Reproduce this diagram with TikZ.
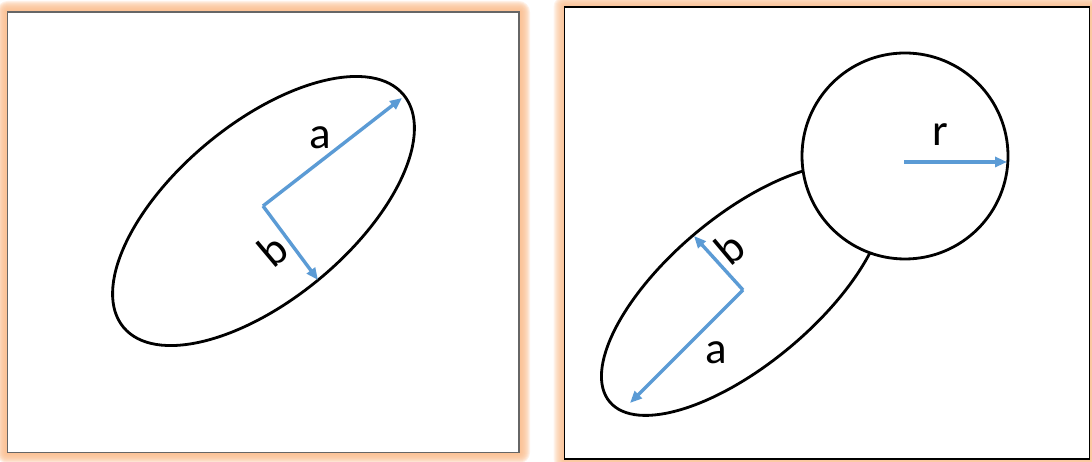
\documentclass[tikz,border=0pt]{standalone}
\usepackage{fontspec}
\setmainfont{Carlito}
\usetikzlibrary{arrows.meta, calc}
\definecolor{glow}{RGB}{250,188,140}
\definecolor{radblue}{RGB}{91,155,213}

\begin{document}
\begin{tikzpicture}[
    x=1pt, y=1pt,
    font=\fontsize{45}{48}\selectfont,
    >={Triangle[length=12pt, width=10pt]},
    panel/.style={
        fill=white,
        line width=1.5pt
    },
    outline/.style={
        draw=black,
        line width=2.8pt
    },
    dimarrow/.style={->, draw=radblue, line width=3.4pt},
    letter/.style={
        inner sep=0pt,
        text=black
    }
]
\useasboundingbox (0,0) rectangle (1092,462);
% ============================================================
% PANEL CORNERS
% ============================================================
\coordinate (lsw) at (7.5,9.5);
\coordinate (lne) at (519,450);
\coordinate (rsw) at (564.5,3);
\coordinate (rne) at (1089.5,455);
% ============================================================
% ORANGE GLOW -- stacked soft rims round both panels
% ============================================================
\foreach \g in {1,...,11} {
    \fill[glow, opacity=0.2, rounded corners=\g pt]
        ($(lsw)+(-\g,-\g)$) rectangle ($(lne)+(\g,\g)$);
    \fill[glow, opacity=0.16, rounded corners=\g pt]
        ($(rsw)+(-\g,-\g)$) rectangle ($(rne)+(\g,\g)$);
}
\filldraw[panel, draw=black!60] (lsw) rectangle (lne);
\filldraw[panel, draw=black] (rsw) rectangle (rne);
% ============================================================
% LEFT PANEL -- ellipse with both semi-axes
% ============================================================
\coordinate (lctr) at (263.5,251);
\coordinate (lorg) at (263,256);
\coordinate (latip) at (402,364);
\coordinate (lbtip) at (318,182);
\draw[outline, rotate around={39.7:(lctr)}]
    (lctr) ellipse [x radius=182, y radius=88];
\draw[dimarrow] (lorg) -- (latip);
\draw[dimarrow] (lorg) -- (lbtip);
\node[letter] (la) at (320,324) {a};
\node[letter, rotate=40] (lb) at (273,212) {b};
% ============================================================
% RIGHT PANEL -- ellipse partly under a circle
% ============================================================
\coordinate (rctr) at (743,172);
\coordinate (ratip) at (630,59);
\coordinate (rbtip) at (694,226);
\draw[outline, rotate around={40:(rctr)}]
    (rctr) ellipse [x radius=174, y radius=74];
\draw[dimarrow] (rctr) -- (ratip);
\draw[dimarrow] (rctr) -- (rbtip);
\node[letter] (ra) at (716,109) {a};
\node[letter, rotate=40] (rb) at (730,214) {b};
% circle covers the upper end of the ellipse
\coordinate (cctr) at (905,306);
\coordinate (corg) at (904,300);
\coordinate (crtip) at (1007,300);
\filldraw[outline, fill=white] (cctr) circle [radius=103];
\draw[dimarrow] (corg) -- (crtip);
\node[letter] (rr) at (940,327) {r};
\end{tikzpicture}
\end{document}
